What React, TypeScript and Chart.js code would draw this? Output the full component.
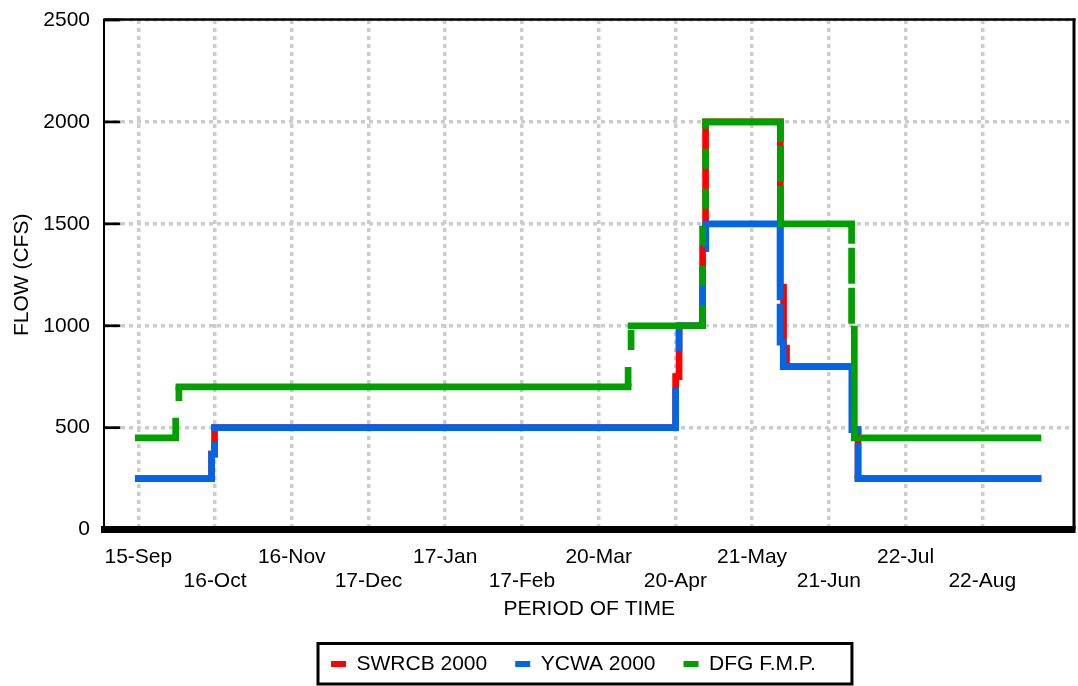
import React, { useEffect, useRef } from 'react';
import { Chart, registerables } from 'chart.js';

Chart.register(...registerables);
Chart.defaults.font.family = '"Liberation Sans", Arial, sans-serif';
Chart.defaults.font.size = 21;
Chart.defaults.color = '#000';

// x axis: days counted from 15-Sep
const xTickDays = [0, 31, 62, 93, 124, 155, 186, 217, 248, 279, 310, 341];
const xTickLabels = ['15-Sep', '16-Oct', '16-Nov', '17-Dec', '17-Jan', '17-Feb', '20-Mar', '20-Apr', '21-May', '21-Jun', '22-Jul', '22-Aug'];
const yTickValues = [0, 500, 1000, 1500, 2000, 2500];
const endDay = 363.5;

// SWRCB 2000: starting flow, then the day of each step and the flow after it
const swrcbStart = 250;
const swrcbStepDays = [29.6, 30.8, 217.1, 218.5, 228, 229.2, 259.4, 260.7, 261.9, 288.9, 290.8];
const swrcbStepFlows = [370, 500, 750, 1000, 1380, 2000, 1190, 890, 800, 490, 250];

// YCWA 2000
const ycwaStart = 250;
const ycwaStepDays = [29.6, 30.8, 217.1, 218.5, 228, 229.3, 259.3, 260.6, 288.3, 290.8];
const ycwaStepFlows = [370, 500, 750, 1000, 1380, 1500, 920, 800, 490, 250];

// DFG F.M.P.
const dfgStart = 450;
const dfgStepDays = [15.1, 16.4, 197.9, 199.1, 228, 229.2, 259.5, 288.2, 289.3];
const dfgStepFlows = [560, 700, 800, 1000, 1500, 2000, 1500, 1000, 450];

const seriesLabels = ['SWRCB 2000', 'YCWA 2000', 'DFG F.M.P.'];
const seriesColors = ['#ff0000', '#0066e6', '#00a000'];

function stepPoints(start: number, days: number[], flows: number[]) {
  const pts: { x: number; y: number }[] = [{ x: 0, y: start }];
  let prev = start;
  days.forEach((d, i) => {
    pts.push({ x: d, y: prev });
    pts.push({ x: d, y: flows[i] });
    prev = flows[i];
  });
  pts.push({ x: endDay, y: prev });
  return pts;
}

const isRamp = (ctx: any) => Math.abs(ctx.p1.x - ctx.p0.x) < 10;
const makeSegment = (dash: number[]) => ({
  borderDash: (ctx: any) => (isRamp(ctx) ? dash : []),
  borderCapStyle: (ctx: any) => (isRamp(ctx) ? 'butt' : 'square'),
});

const legendStartX = 331;

const framePlugin = {
  id: 'framePlugin',
  afterUpdate(chart: any) {
    const lg = chart.legend;
    const hb = lg && lg.legendHitBoxes;
    if (hb && hb.length) {
      const dx = legendStartX - hb[0].left;
      lg.left += dx;
      lg.right += dx;
      hb.forEach((h: any) => { h.left += dx; });
    }
  },
  afterDraw(chart: any) {
    const { ctx, chartArea: a, scales } = chart;
    ctx.save();
    ctx.strokeStyle = '#000';
    ctx.lineWidth = 2.7;
    yTickValues.forEach((v) => {
      const y = scales.y.getPixelForValue(v);
      ctx.beginPath();
      ctx.moveTo(a.left, y);
      ctx.lineTo(a.left + 16, y);
      ctx.stroke();
    });
    ctx.lineWidth = 2.5;
    ctx.beginPath();
    ctx.moveTo(a.left - 1, a.top - 0.5);
    ctx.lineTo(a.right + 1.5, a.top - 0.5);
    ctx.stroke();
    ctx.lineWidth = 3;
    ctx.beginPath();
    ctx.moveTo(a.right, a.top - 1.5);
    ctx.lineTo(a.right, a.bottom);
    ctx.stroke();
    const hb = chart.legend && chart.legend.legendHitBoxes;
    if (hb && hb.length) {
      const first = hb[0];
      const last = hb[hb.length - 1];
      const left = first.left - 13;
      const right = last.left + last.width + 36;
      const top = first.top - 10;
      const bottom = first.top + 30.5;
      ctx.lineWidth = 3;
      ctx.strokeRect(left, top, right - left, bottom - top);
    }
    ctx.restore();
  },
};

export default function App() {
  const ref = useRef<HTMLCanvasElement>(null);
  useEffect(() => {
    const seriesData = [
      stepPoints(swrcbStart, swrcbStepDays, swrcbStepFlows),
      stepPoints(ycwaStart, ycwaStepDays, ycwaStepFlows),
      stepPoints(dfgStart, dfgStepDays, dfgStepFlows),
    ];
    const dashes = [[], [40, 40], [20, 20]];
    const orders = [3, 2, 1];
    const chart = new Chart(ref.current as HTMLCanvasElement, {
      type: 'line',
      data: {
        datasets: seriesData.map((d, i) => ({
          label: seriesLabels[i],
          data: d,
          borderColor: seriesColors[i],
          backgroundColor: seriesColors[i],
          borderWidth: 6.7,
          pointRadius: 0,
          fill: false,
          tension: 0,
          order: orders[i],
          borderJoinStyle: 'miter',
          segment: makeSegment(dashes[i]),
        })) as any,
      },
      options: {
        animation: false,
        responsive: true,
        maintainAspectRatio: false,
        events: [],
        layout: { padding: { top: 20, right: 4, bottom: 1.5, left: 0 } },
        plugins: {
          tooltip: { enabled: false },
          legend: {
            position: 'bottom',
            labels: {
              boxWidth: 15,
              boxHeight: 6,
              padding: 28,
              color: '#000',
              font: { size: 21 },
              generateLabels: (c: any) =>
                c.data.datasets.map((ds: any, i: number) => ({
                  text: ds.label,
                  fillStyle: ds.borderColor,
                  strokeStyle: ds.borderColor,
                  lineWidth: 0,
                  hidden: false,
                  datasetIndex: i,
                  fontColor: '#000',
                })),
            },
          },
        },
        scales: {
          x: {
            type: 'linear',
            min: -13.74,
            max: 378.06,
            afterBuildTicks: (s: any) => {
              s.ticks = xTickDays.map((v) => ({ value: v }));
            },
            ticks: {
              autoSkip: false,
              maxRotation: 0,
              minRotation: 0,
              padding: 4,
              color: '#000',
              font: { size: 21, lineHeight: 24 / 21 },
              callback: (_v: any, i: number) => (i % 2 === 0 ? [xTickLabels[i], ''] : ['', xTickLabels[i]]),
            },
            grid: { color: '#cccccc', lineWidth: 3.5, drawTicks: true, tickLength: 12, tickWidth: 0 },
            border: { display: true, color: '#000', width: 7, dash: [4, 4] },
            title: {
              display: true,
              text: 'PERIOD OF TIME',
              color: '#000',
              font: { size: 21, lineHeight: 24 / 21 },
              padding: { top: 0, bottom: 3.9 },
            },
          },
          y: {
            type: 'linear',
            min: 0,
            max: 2500,
            afterBuildTicks: (s: any) => {
              s.ticks = yTickValues.map((v) => ({ value: v }));
            },
            afterFit: (s: any) => {
              s.width = 104.3;
            },
            ticks: { padding: 0, color: '#000', font: { size: 21 }, callback: (v: any) => String(v) },
            grid: { color: '#cccccc', lineWidth: 3.5, drawTicks: true, tickLength: 14.3, tickWidth: 0 },
            border: { display: true, color: '#000', width: 2, dash: [4, 4] },
            title: {
              display: true,
              text: 'FLOW (CFS)',
              color: '#000',
              font: { size: 21 },
              padding: { top: 9.4, bottom: 0 },
            },
          },
        },
      } as any,
      plugins: [framePlugin as any],
    });
    return () => chart.destroy();
  }, []);
  return (
    <div style={{ position: 'fixed', left: 0, top: 0, width: 1078, height: 686, background: '#fff' }}>
      <canvas ref={ref} />
    </div>
  );
}
